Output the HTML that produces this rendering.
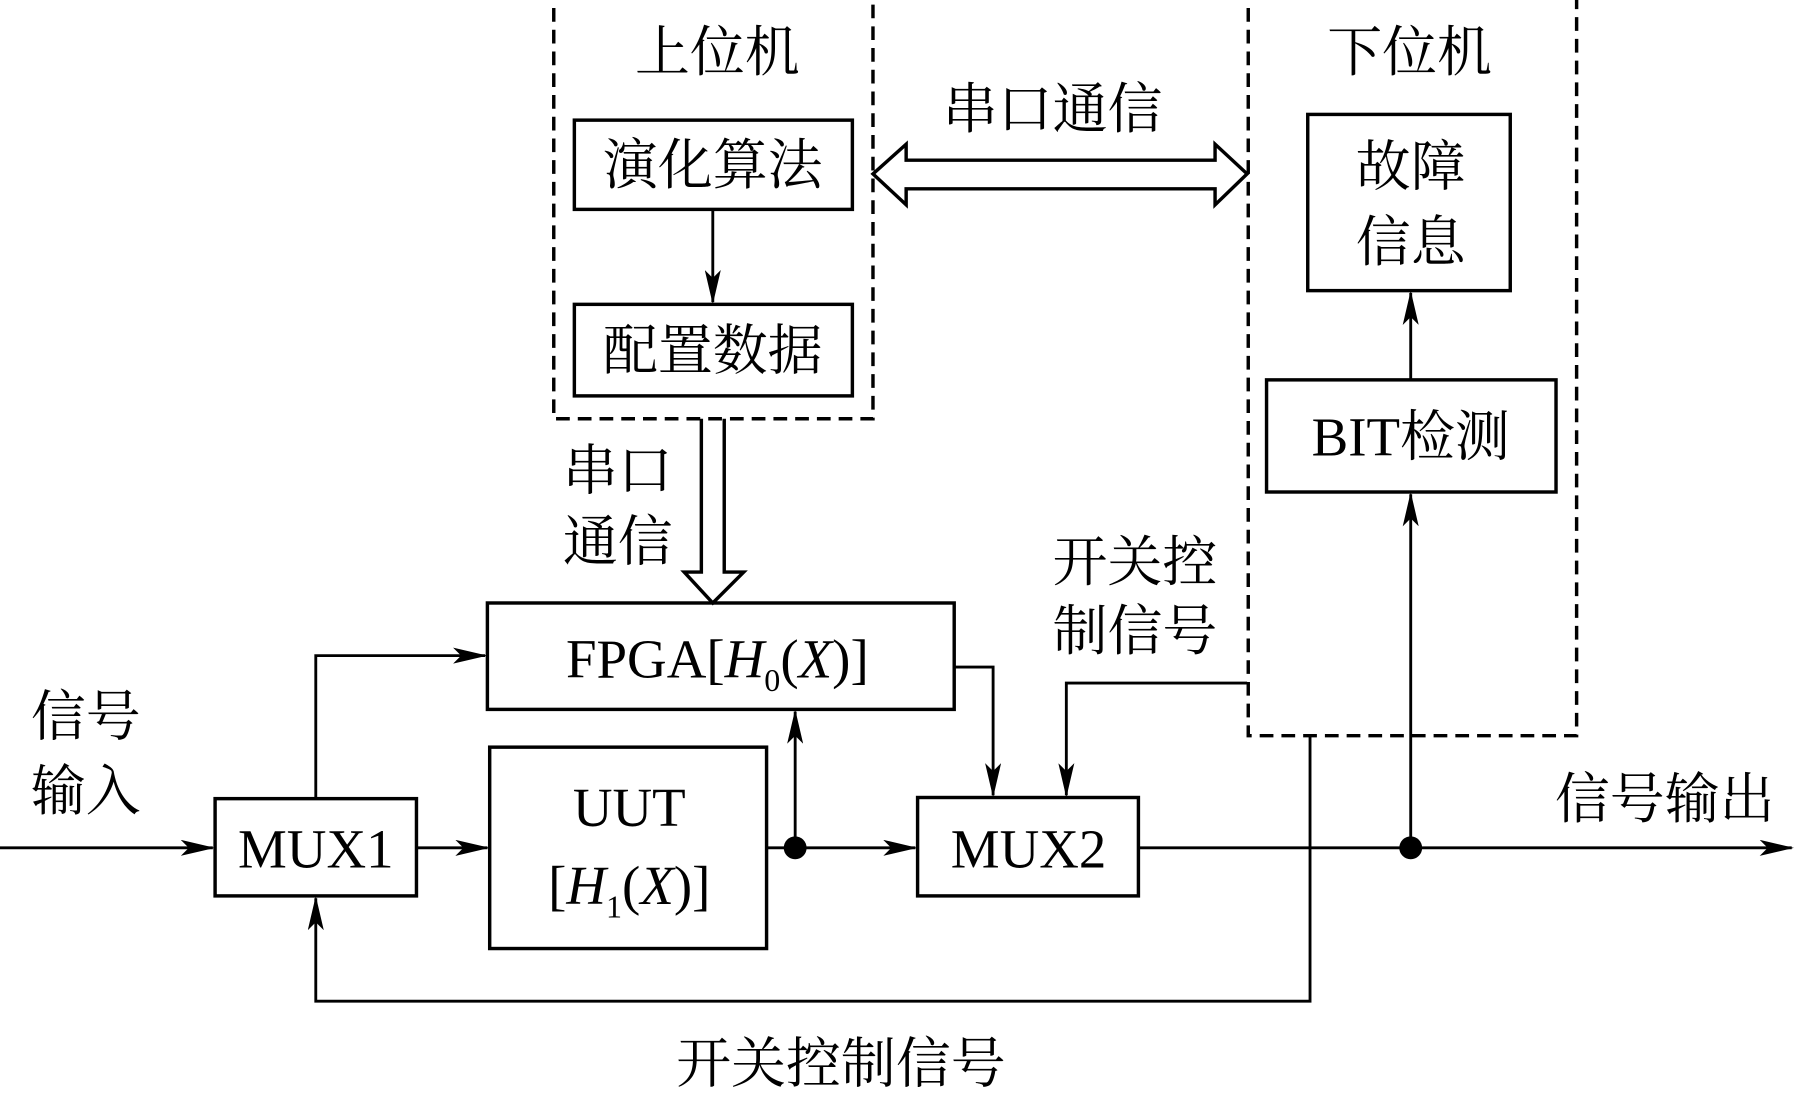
<!DOCTYPE html>
<html><head><meta charset="utf-8"><style>
html,body{margin:0;padding:0;background:#fff;}
svg{display:block;}
text{font-family:"Liberation Serif","Noto Serif CJK SC",serif;fill:#000;}
</style></head><body>
<svg width="1794" height="1103" viewBox="0 0 1568 964" preserveAspectRatio="none" xmlns="http://www.w3.org/2000/svg">
<defs>
<marker id="a" markerWidth="30" markerHeight="14" refX="28" refY="7" orient="auto" markerUnits="userSpaceOnUse">
<path d="M0,0 L30,7 L0,14 L7,7 Z" fill="#000"/></marker>
</defs>
<g fill="none" stroke="#000" stroke-width="3">
<rect x="484" y="-2" width="279" height="368" stroke-dasharray="12,7"/>
<rect x="1091" y="-2" width="287" height="645" stroke-dasharray="12,7"/>
<rect x="502" y="105" width="243" height="78"/>
<rect x="502" y="266" width="243" height="80"/>
<rect x="1143" y="100" width="177" height="154"/>
<rect x="1107" y="332" width="253" height="98"/>
<rect x="426" y="527" width="408" height="93"/>
<rect x="188" y="698" width="176" height="85"/>
<rect x="428" y="653" width="242" height="176"/>
<rect x="802" y="697" width="193" height="86"/>
<!-- hollow double arrow -->
<path d="M763,152 L792,126 L792,140 L1062,140 L1062,126 L1090,152 L1062,179 L1062,165 L792,165 L792,179 Z"/>
<!-- hollow down arrow -->
<path d="M613,366 L613,500 L598,500 L623,527 L650,500 L633,500 L633,366"/>
</g>
<g fill="none" stroke="#000" stroke-width="2.5">
<line x1="623" y1="183" x2="623" y2="264" marker-end="url(#a)"/>
<line x1="1233" y1="332" x2="1233" y2="256" marker-end="url(#a)"/>
<line x1="0" y1="741" x2="186" y2="741" marker-end="url(#a)"/>
<line x1="364" y1="741" x2="426" y2="741" marker-end="url(#a)"/>
<polyline points="276,698 276,573 424,573" marker-end="url(#a)"/>
<line x1="670" y1="741" x2="800" y2="741" marker-end="url(#a)"/>
<line x1="695" y1="741" x2="695" y2="622" marker-end="url(#a)"/>
<polyline points="834,583 868,583 868,695" marker-end="url(#a)"/>
<polyline points="1090,597 932,597 932,695" marker-end="url(#a)"/>
<line x1="995" y1="741" x2="1566" y2="741" marker-end="url(#a)"/>
<line x1="1233" y1="741" x2="1233" y2="432" marker-end="url(#a)"/>
<polyline points="1145,643 1145,875 276,875 276,785" marker-end="url(#a)"/>
</g>
<circle cx="695" cy="741" r="10" fill="#000"/>
<circle cx="1233" cy="741" r="10" fill="#000"/>
<g font-size="48" text-anchor="middle">
<text x="627" y="62">上位机</text>
<text x="1232" y="62">下位机</text>
<text x="623" y="161">演化算法</text>
<text x="623" y="323">配置数据</text>
<text x="920" y="112">串口通信</text>
<text x="1233" y="162">故障</text>
<text x="1233" y="228">信息</text>
<text x="1233" y="398">BIT检测</text>
<text x="540" y="428">串口</text>
<text x="540" y="490">通信</text>
<text x="992" y="508">开关控</text>
<text x="992" y="568">制信号</text>
<text x="75" y="643">信号</text>
<text x="75" y="708">输入</text>
<text x="1455" y="715">信号输出</text>
<text x="735" y="946">开关控制信号</text>
<text x="627" y="592">FPGA[<tspan font-style="italic">H</tspan><tspan font-size="28" dy="12">0</tspan><tspan dy="-12">(</tspan><tspan font-style="italic">X</tspan>)]</text>
<text x="276" y="758">MUX1</text>
<text x="550" y="722">UUT</text>
<text x="550" y="790">[<tspan font-style="italic">H</tspan><tspan font-size="28" dy="12">1</tspan><tspan dy="-12">(</tspan><tspan font-style="italic">X</tspan>)]</text>
<text x="899" y="758">MUX2</text>
</g>
</svg>
</body></html>
